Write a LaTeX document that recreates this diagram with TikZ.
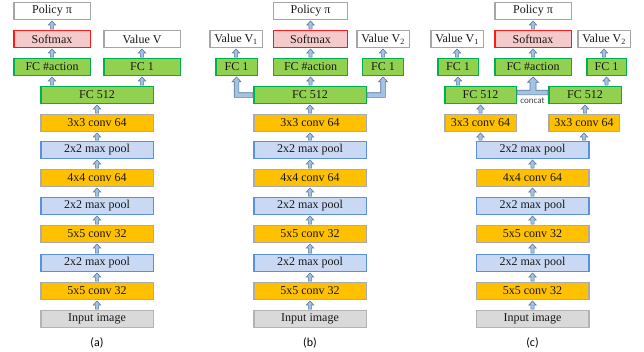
\documentclass[tikz,border=0pt]{standalone}
\usepackage{fontspec}
\setmainfont{Liberation Serif}
\newfontfamily\labelfont{Carlito}
\usetikzlibrary{calc}

\definecolor{convfill}{HTML}{FFC000}
\definecolor{convline}{HTML}{ABABAB}
\definecolor{poolfill}{HTML}{C9D9F4}
\definecolor{poolline}{HTML}{5B8FE0}
\definecolor{fcfill}{HTML}{92D050}
\definecolor{fcline}{HTML}{00B050}
\definecolor{softfill}{HTML}{F4CACA}
\definecolor{softline}{HTML}{FF1A1A}
\definecolor{valline}{HTML}{A6A6A6}
\definecolor{inputfill}{HTML}{D9D9D9}
\definecolor{inputline}{HTML}{B3B3B3}
\definecolor{arrfill}{HTML}{A2C2E6}
\definecolor{arrline}{HTML}{5E7A98}

\tikzset{
  layer/.style={draw, line width=1.5pt, minimum height=17pt, inner sep=0pt,
    text=black!90, font=\fontsize{12}{14}\selectfont},
  convbox/.style={layer, fill=convfill, draw=convline, minimum width=112.5pt},
  poolbox/.style={layer, fill=poolfill, draw=poolline, minimum width=112.5pt},
  inputbox/.style={layer, fill=inputfill, draw=inputline, minimum width=112.5pt},
  fcbox/.style={layer, fill=fcfill, draw=fcline},
  softbox/.style={layer, fill=softfill, draw=softline},
  valbox/.style={layer, fill=white, draw=valline},
  blockarr/.style={fill=arrfill, draw=arrline, line width=0.6pt},
}

% small up arrow from #1 into the bottom of #2
\newcommand{\blockup}[2]{%
  \path[blockarr] let \p1=(#2.south), \p2=(#1.north) in
    ({\x1-1.6pt},{\y2+0.7pt}) -- ({\x1-1.6pt},{\y1-4.7pt}) -- ({\x1-3.6pt},{\y1-4.7pt})
    -- (\x1,{\y1-0.7pt}) -- ({\x1+3.6pt},{\y1-4.7pt}) -- ({\x1+1.6pt},{\y1-4.7pt})
    -- ({\x1+1.6pt},{\y2+0.7pt}) -- cycle;}
% bent arrow from side #3 of #1 up into #2, #4 = 1 (to the left) or -1 (to the right)
\newcommand{\blockbend}[4]{%
  \path[blockarr] let \p1=(#2.south), \p2=(#1.#3) in
    (\x2,{\y2+2.3pt}) -- ({\x1+(#4)*2.3pt},{\y2+2.3pt}) -- ({\x1+(#4)*2.3pt},{\y1-5.5pt})
    -- ({\x1+(#4)*4.5pt},{\y1-5.5pt}) -- (\x1,{\y1-0.7pt}) -- ({\x1-(#4)*4.5pt},{\y1-5.5pt})
    -- ({\x1-(#4)*2.3pt},{\y1-5.5pt}) -- ({\x1-(#4)*2.3pt},{\y2-2.3pt}) -- (\x2,{\y2-2.3pt}) -- cycle;}
% joined arrow from #1 and #2 up into #3
\newcommand{\blockjoin}[3]{%
  \path[blockarr] let \p1=(#3.south), \p2=(#1.east), \p3=(#2.west) in
    (\x2,{\y2+4.8pt}) -- ({\x1-3pt},{\y2+4.8pt}) -- ({\x1-3pt},{\y1-6pt})
    -- ({\x1-5.5pt},{\y1-6pt}) -- (\x1,{\y1-0.7pt}) -- ({\x1+5.5pt},{\y1-6pt})
    -- ({\x1+3pt},{\y1-6pt}) -- ({\x1+3pt},{\y2+4.8pt}) -- (\x3,{\y3+4.8pt})
    -- (\x3,{\y3+0.2pt}) -- (\x2,{\y2+0.2pt}) -- cycle;}

\begin{document}
\begin{tikzpicture}[x=1pt,y=-1pt]
  \useasboundingbox (0,0) rectangle (644,351);

  % shared lower stack
  \foreach \col/\cx in {a/97,b/310,c/532.5} {
    \node[poolbox] (\col-p1) at (\cx,150) {2x2 max pool};
    \node[convbox] (\col-c2) at (\cx,178) {4x4 conv 64};
    \node[poolbox] (\col-p2) at (\cx,206) {2x2 max pool};
    \node[convbox] (\col-c3) at (\cx,234) {5x5 conv 32};
    \node[poolbox] (\col-p3) at (\cx,263) {2x2 max pool};
    \node[convbox] (\col-c4) at (\cx,291) {5x5 conv 32};
    \node[inputbox] (\col-in) at (\cx,319) {Input image};
    \node[font=\labelfont\fontsize{12}{14}\selectfont] (\col-lab) at (\cx,343) {(\col)};
    \blockup{\col-in}{\col-c4}
    \blockup{\col-c4}{\col-p3}
    \blockup{\col-p3}{\col-c3}
    \blockup{\col-c3}{\col-p2}
    \blockup{\col-p2}{\col-c2}
    \blockup{\col-c2}{\col-p1}
  }

  % (a)
  \node[valbox, minimum width=76.5pt] (a-pol) at (52,11) {Policy π};
  \node[softbox, minimum width=76.5pt] (a-soft) at (52,39) {Softmax};
  \node[valbox, minimum width=76.5pt] (a-val) at (142,39) {Value V};
  \node[fcbox, minimum width=76.5pt] (a-act) at (52,67) {FC \#action};
  \node[fcbox, minimum width=76.5pt] (a-fc1) at (142,67) {FC 1};
  \node[fcbox, minimum width=112.5pt] (a-fc) at (97,95) {FC 512};
  \node[convbox] (a-c1) at (97,123) {3x3 conv 64};
  \blockup{a-p1}{a-c1}
  \blockup{a-c1}{a-fc}
  \blockup{a-fc}{a-act}
  \blockup{a-fc}{a-fc1}
  \blockup{a-act}{a-soft}
  \blockup{a-soft}{a-pol}
  \blockup{a-fc1}{a-val}

  % (b)
  \node[valbox, minimum width=74pt] (b-pol) at (310.5,11) {Policy π};
  \node[valbox, minimum width=52.5pt] (b-v1) at (236,39) {Value V\textsubscript{1}};
  \node[softbox, minimum width=74pt] (b-soft) at (310.5,39) {Softmax};
  \node[valbox, minimum width=52.5pt] (b-v2) at (383,39) {Value V\textsubscript{2}};
  \node[fcbox, minimum width=41.5pt] (b-fc1l) at (236.5,67) {FC 1};
  \node[fcbox, minimum width=74pt] (b-act) at (310.5,67) {FC \#action};
  \node[fcbox, minimum width=41pt] (b-fc1r) at (383,67) {FC 1};
  \node[fcbox, minimum width=112.5pt] (b-fc) at (310,95) {FC 512};
  \node[convbox] (b-c1) at (310,123) {3x3 conv 64};
  \blockup{b-p1}{b-c1}
  \blockup{b-c1}{b-fc}
  \blockup{b-fc}{b-act}
  \blockbend{b-fc}{b-fc1l}{west}{1}
  \blockbend{b-fc}{b-fc1r}{east}{-1}
  \blockup{b-act}{b-soft}
  \blockup{b-soft}{b-pol}
  \blockup{b-fc1l}{b-v1}
  \blockup{b-fc1r}{b-v2}

  % (c)
  \node[valbox, minimum width=76.5pt] (c-pol) at (533,11) {Policy π};
  \node[valbox, minimum width=52.5pt] (c-v1) at (457,39) {Value V\textsubscript{1}};
  \node[softbox, minimum width=76.5pt] (c-soft) at (533,39) {Softmax};
  \node[valbox, minimum width=52.5pt] (c-v2) at (604,39) {Value V\textsubscript{2}};
  \node[fcbox, minimum width=40.5pt] (c-fc1l) at (458,67) {FC 1};
  \node[fcbox, minimum width=76.5pt] (c-act) at (533,67) {FC \#action};
  \node[fcbox, minimum width=39.5pt] (c-fc1r) at (606.5,67) {FC 1};
  \node[fcbox, minimum width=71.5pt] (c-fcl) at (480.5,95) {FC 512};
  \node[fcbox, minimum width=72.5pt] (c-fcr) at (585,95) {FC 512};
  \node[convbox, minimum width=71.5pt] (c-c1l) at (480.5,123) {3x3 conv 64};
  \node[convbox, minimum width=70.5pt] (c-c1r) at (584,123) {3x3 conv 64};
  \node[font=\labelfont\fontsize{9}{10}\selectfont, text=black!75] (c-cat) at (532.5,100.5) {concat};
  \blockup{c-p1}{c-c1l}
  \blockup{c-p1}{c-c1r}
  \blockup{c-c1l}{c-fcl}
  \blockup{c-c1r}{c-fcr}
  \blockjoin{c-fcl}{c-fcr}{c-act}
  \blockup{c-fcl}{c-fc1l}
  \blockup{c-fcr}{c-fc1r}
  \blockup{c-act}{c-soft}
  \blockup{c-soft}{c-pol}
  \blockup{c-fc1l}{c-v1}
  \blockup{c-fc1r}{c-v2}
\end{tikzpicture}
\end{document}
